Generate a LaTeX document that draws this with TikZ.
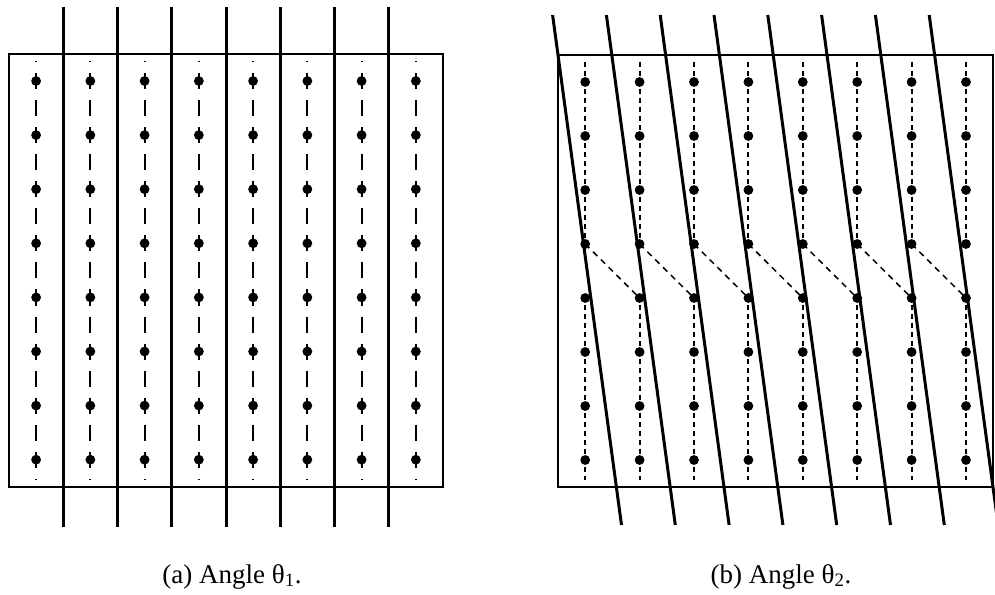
\documentclass[tikz,border=0pt]{standalone}
\usepackage{fontspec}
\setmainfont{Liberation Serif}
\begin{document}
\begin{tikzpicture}[x=1pt,y=-1pt,
  thickline/.style={line width=3pt},
  boxline/.style={line width=1.6pt},
  ldash/.style={line width=2pt, dash pattern=on 16.05pt off 11pt, dash phase=15pt},
  rdashtop/.style={line width=2pt, dash pattern=on 5pt off 4pt, dash phase=0.5pt},
  rdashbot/.style={line width=2pt, dash pattern=on 5pt off 4pt, dash phase=2.5pt},
  diagdash/.style={line width=1.5pt, dash pattern=on 6pt off 5pt},
  dotfill/.style={fill=black},
  captxt/.style={font=\fontsize{27}{31}\selectfont, anchor=base}]
\useasboundingbox (0,0) rectangle (995,594);
\clip (0,0) rectangle (995,594);
% ---------- panel (a) ----------
\draw[boxline] (9,54) rectangle (443,487);
\foreach \i in {0,...,7}{
  \coordinate (adt\i) at ({36.1+54.25*\i},61);
  \coordinate (adb\i) at ({36.1+54.25*\i},480);
  \draw[ldash] (adt\i) -- (adb\i);
  \foreach \j in {0,...,7}{
    \coordinate (a-\i-\j) at ({36.1+54.25*\i},{81+54.1*\j});
    \fill[dotfill] (a-\i-\j) circle (4.9);
  }
}
\foreach \k in {1,...,7}{
  \coordinate (alt\k) at ({9+54.25*\k},7);
  \coordinate (alb\k) at ({9+54.25*\k},527);
  \draw[thickline] (alt\k) -- (alb\k);
}
% ---------- panel (b) ----------
\draw[boxline] (558,55) rectangle (993,487);
\foreach \i in {0,...,7}{
  \foreach \j in {0,...,7}{
    \coordinate (b-\i-\j) at ({585.2+54.4*\i},{82+54*\j});
  }
  \coordinate (bdt\i) at ({585.2+54.4*\i},62);
  \coordinate (bdb\i) at ({585.2+54.4*\i},480);
  \draw[rdashtop] (bdt\i) -- (b-\i-3);
  \draw[rdashbot] (b-\i-4) -- (bdb\i);
}
\foreach \i [evaluate=\i as \n using int(\i+1)] in {0,...,6}{
  \draw[diagdash] (b-\i-3) -- (b-\n-4);
}
\foreach \i in {0,...,7}{
  \foreach \j in {0,...,7}{
    \fill[dotfill] (b-\i-\j) circle (4.9);
  }
}
\foreach \k in {0,...,7}{
  \coordinate (blt\k) at ({552.6+53.8*\k},15);
  \coordinate (blb\k) at ({621.5+53.8*\k},525);
  \draw[thickline] (blt\k) -- (blb\k);
}
% ---------- captions ----------
\node[captxt] (capa) at (232,583) {(a) Angle θ\textsubscript{1}.};
\node[captxt] (capb) at (781,583) {(b) Angle θ\textsubscript{2}.};
\end{tikzpicture}
\end{document}
